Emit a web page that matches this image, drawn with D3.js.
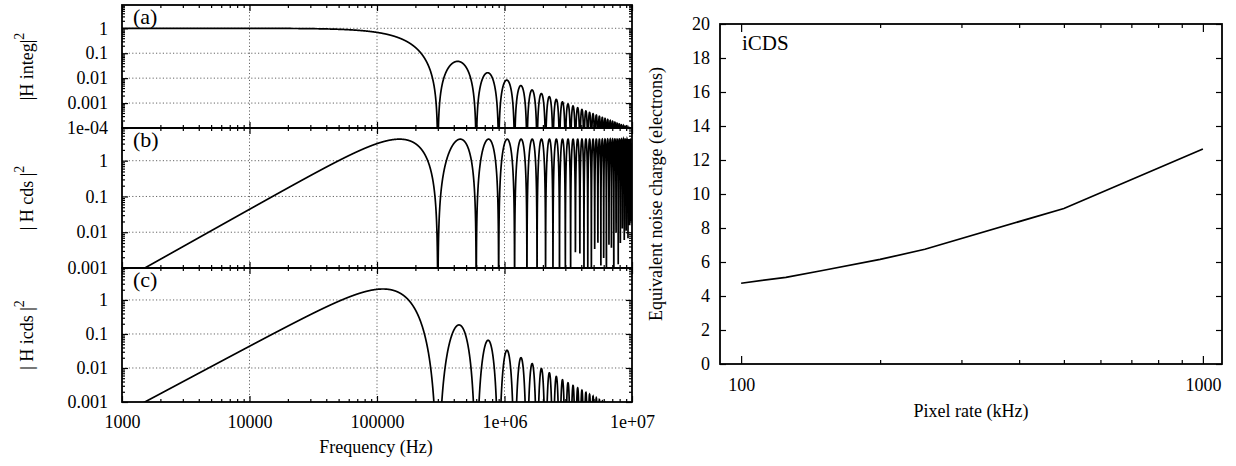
<!DOCTYPE html>
<html>
<head>
<meta charset="utf-8">
<script src="https://cdn.jsdelivr.net/npm/d3@7"></script>
<style>
    body { margin: 0; background: #fff; }
    svg text { font-family: "Liberation Serif", "Times New Roman", serif; fill: #000; }
    .axis text { font-size: 18px; }
    .axis line { stroke: #000; stroke-width: 1.2; }
    .axis path { display: none; }
    .grid line { stroke: #666; stroke-width: 1; stroke-dasharray: 1.2,2.2; }
    .frame { fill: none; stroke: #000; stroke-width: 1.8; }
    .curve { fill: none; stroke: #000; stroke-width: 1.7; }
    .title { font-size: 18px; }
    .tag { font-size: 22px; }
</style>
</head>
<body>
<svg id="fig" width="1236" height="466"></svg>
<script>
// ---- left figure: frequency responses ----
const freqDomain = [1e3, 1e7];
const freqTicks = [1e3, 1e4, 1e5, 1e6, 1e7];
const freqTickLabels = ['1000', '10000', '100000', '1e+06', '1e+07'];
const firstNullHz = 3e5;   // first zero of the integrator
const cdsPeak = 4;         // height of the CDS lobes

const yTicksA = [1e-4, 1e-3, 1e-2, 1e-1, 1];
const yLabelsA = ['1e-04', '0.001', '0.01', '0.1', '1'];
const yTicksBC = [1e-3, 1e-2, 1e-1, 1];
const yLabelsBC = ['0.001', '0.01', '0.1', '1'];
const yTopA = 8.6, yTopB = 8.2, yTopC = 8.7;

// ---- right figure: noise vs pixel rate ----
const pixelRate = [100, 125, 150, 200, 250, 500, 1000];
const noiseCharge = [4.75, 5.1, 5.5, 6.15, 6.75, 9.15, 12.65];
const rateTicks = [100, 1000];
const rateMinor = [200, 300, 400, 500, 600, 700, 800, 900];
const noiseTicks = [0, 2, 4, 6, 8, 10, 12, 14, 16, 18, 20];

const svg = d3.select('#fig');

// transfer functions of the three panels
const hInteg = f => {
    const x = Math.PI * f / firstNullHz;
    const s = Math.sin(x) / x;
    return s * s;
};
const hCds = f => {
    const s = Math.sin(Math.PI * f / firstNullHz);
    return cdsPeak * s * s;
};
const hIcds = f => hInteg(f) * hCds(f);

const nSamples = 6000;
const freqs = d3.range(nSamples + 1).map(i => freqDomain[0] * Math.pow(freqDomain[1] / freqDomain[0], i / nSamples));

const xF = d3.scaleLog().domain(freqDomain).range([122, 632]);

const panels = [
    { id: 'a', top: 5, bottom: 128, domain: [1e-4, yTopA], ticks: yTicksA, labels: yLabelsA, fn: hInteg, title: '|H integ|', tag: '(a)' },
    { id: 'b', top: 128, bottom: 268, domain: [1e-3, yTopB], ticks: yTicksBC, labels: yLabelsBC, fn: hCds, title: '| H cds |', tag: '(b)' },
    { id: 'c', top: 268, bottom: 402, domain: [1e-3, yTopC], ticks: yTicksBC, labels: yLabelsBC, fn: hIcds, title: '| H icds |', tag: '(c)' }
];

const minorDecades = (lo, hi) => {
    const out = [];
    for (let d = lo; d < hi; d *= 10) {
        for (let m = 2; m <= 9; m++) out.push(d * m);
    }
    return out;
};
const freqMinor = minorDecades(1e3, 1e7);

panels.forEach(p => {
    const y = d3.scaleLog().domain(p.domain).range([p.bottom, p.top]);
    const g = svg.append('g');

    // dotted grid
    const grid = g.append('g').attr('class', 'grid');
    grid.selectAll('.gx')
        .data(freqTicks.slice(1, -1))
        .join('line')
        .attr('x1', d => xF(d)).attr('x2', d => xF(d))
        .attr('y1', p.top).attr('y2', p.bottom);
    grid.selectAll('.gy')
        .data(p.ticks.filter(t => y(t) < p.bottom - 1))
        .join('line')
        .attr('x1', xF.range()[0]).attr('x2', xF.range()[1])
        .attr('y1', d => y(d)).attr('y2', d => y(d));

    // curve
    g.append('clipPath').attr('id', 'clip-' + p.id)
        .append('rect')
        .attr('x', xF.range()[0]).attr('y', p.top)
        .attr('width', xF.range()[1] - xF.range()[0])
        .attr('height', p.bottom - p.top);

    const line = d3.line()
        .x(f => xF(f))
        .y(f => y(Math.max(p.fn(f), 1e-30)));

    g.append('path')
        .attr('class', 'curve')
        .attr('clip-path', `url(#clip-${p.id})`)
        .attr('d', line(freqs));

    // y axis, ticks drawn inward on both sides
    const yMinor = minorDecades(p.domain[0], 1).concat([2, 3, 4, 5, 6, 7, 8].filter(v => v <= p.domain[1]));
    g.append('g').attr('class', 'axis')
        .attr('transform', `translate(${xF.range()[0]},0)`)
        .call(d3.axisLeft(y).tickValues(p.ticks)
            .tickFormat((d, i) => p.labels[i])
            .tickSizeInner(-6).tickSizeOuter(0).tickPadding(14));
    g.append('g').attr('class', 'axis')
        .attr('transform', `translate(${xF.range()[0]},0)`)
        .call(d3.axisLeft(y).tickValues(yMinor).tickFormat('').tickSizeInner(-3).tickSizeOuter(0));
    g.append('g').attr('class', 'axis')
        .attr('transform', `translate(${xF.range()[1]},0)`)
        .call(d3.axisRight(y).tickValues(p.ticks).tickFormat('').tickSizeInner(-6).tickSizeOuter(0));
    g.append('g').attr('class', 'axis')
        .attr('transform', `translate(${xF.range()[1]},0)`)
        .call(d3.axisRight(y).tickValues(yMinor).tickFormat('').tickSizeInner(-3).tickSizeOuter(0));

    // x ticks on top and bottom of every panel
    g.append('g').attr('class', 'axis')
        .attr('transform', `translate(0,${p.bottom})`)
        .call(d3.axisBottom(xF).tickValues(freqTicks)
            .tickFormat((d, i) => p.id === 'c' ? freqTickLabels[i] : '')
            .tickSizeInner(-6).tickSizeOuter(0).tickPadding(13));
    g.append('g').attr('class', 'axis')
        .attr('transform', `translate(0,${p.bottom})`)
        .call(d3.axisBottom(xF).tickValues(freqMinor).tickFormat('').tickSizeInner(-3).tickSizeOuter(0));
    g.append('g').attr('class', 'axis')
        .attr('transform', `translate(0,${p.top})`)
        .call(d3.axisTop(xF).tickValues(freqTicks).tickFormat('').tickSizeInner(-6).tickSizeOuter(0));
    g.append('g').attr('class', 'axis')
        .attr('transform', `translate(0,${p.top})`)
        .call(d3.axisTop(xF).tickValues(freqMinor).tickFormat('').tickSizeInner(-3).tickSizeOuter(0));

    // frame
    g.append('rect').attr('class', 'frame')
        .attr('x', xF.range()[0]).attr('y', p.top)
        .attr('width', xF.range()[1] - xF.range()[0])
        .attr('height', p.bottom - p.top);

    // panel tag
    g.append('text').attr('class', 'tag')
        .attr('x', 133).attr('y', p.top + 19)
        .text(p.tag);

    // y title with superscript
    const t = g.append('text').attr('class', 'title')
        .attr('font-size', 19)
        .attr('text-anchor', 'middle')
        .attr('transform', `translate(33,${(p.top + p.bottom) / 2}) rotate(-90)`);
    t.append('tspan').text(p.title);
    t.append('tspan').attr('dy', -9).attr('font-size', 14).text('2');
});

svg.append('text').attr('class', 'title')
    .attr('font-size', 21)
    .attr('x', 376).attr('y', 453)
    .attr('text-anchor', 'middle')
    .text('Frequency (Hz)');

// ---- right chart ----
const xR = d3.scaleLog().domain([90, 1100]).range([720, 1222]);
const yR = d3.scaleLinear().domain([0, 20]).range([364, 24]);
const gR = svg.append('g');

gR.append('path')
    .attr('class', 'curve')
    .attr('d', d3.line()
        .x((d, i) => xR(pixelRate[i]))
        .y((d, i) => yR(noiseCharge[i]))(pixelRate));

gR.append('g').attr('class', 'axis')
    .attr('transform', 'translate(720,0)')
    .call(d3.axisLeft(yR).tickValues(noiseTicks).tickFormat(d3.format('d'))
        .tickSizeInner(-6).tickSizeOuter(0).tickPadding(10));
gR.append('g').attr('class', 'axis')
    .attr('transform', 'translate(1222,0)')
    .call(d3.axisRight(yR).tickValues(noiseTicks).tickFormat('').tickSizeInner(-6).tickSizeOuter(0));
gR.append('g').attr('class', 'axis')
    .attr('transform', 'translate(0,364)')
    .call(d3.axisBottom(xR).tickValues(rateTicks).tickFormat(d3.format('d'))
        .tickSizeInner(-8).tickSizeOuter(0).tickPadding(14));
gR.append('g').attr('class', 'axis')
    .attr('transform', 'translate(0,364)')
    .call(d3.axisBottom(xR).tickValues(rateMinor).tickFormat('').tickSizeInner(-4).tickSizeOuter(0));
gR.append('g').attr('class', 'axis')
    .attr('transform', 'translate(0,24)')
    .call(d3.axisTop(xR).tickValues(rateTicks).tickFormat('').tickSizeInner(-8).tickSizeOuter(0));
gR.append('g').attr('class', 'axis')
    .attr('transform', 'translate(0,24)')
    .call(d3.axisTop(xR).tickValues(rateMinor).tickFormat('').tickSizeInner(-4).tickSizeOuter(0));

gR.append('rect').attr('class', 'frame')
    .attr('x', 720).attr('y', 24).attr('width', 502).attr('height', 340);

gR.append('text')
    .attr('font-size', 21)
    .attr('x', 742).attr('y', 50)
    .text('iCDS');

gR.append('text').attr('class', 'title')
    .attr('text-anchor', 'middle')
    .attr('transform', 'translate(662,194) rotate(-90)')
    .text('Equivalent noise charge (electrons)');

gR.append('text').attr('class', 'title')
    .attr('x', 971).attr('y', 417)
    .attr('text-anchor', 'middle')
    .text('Pixel rate (kHz)');
</script>
</body>
</html>
